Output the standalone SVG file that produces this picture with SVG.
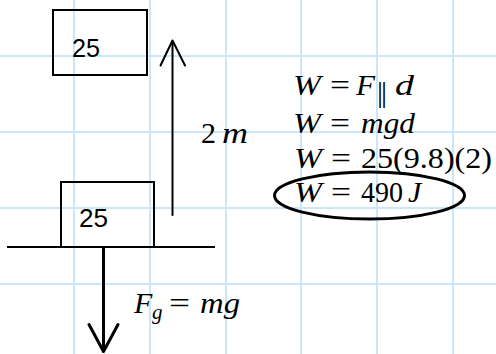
<svg xmlns="http://www.w3.org/2000/svg" width="496" height="354" viewBox="0 0 496 354">
<style>
.grid line{stroke:#c9e6fa;stroke-width:2}
.box{fill:none;stroke:#000;stroke-width:2}
.num{font-family:"Liberation Sans",Arial,sans-serif;font-size:26px;fill:#000}
.m{font-family:"Liberation Serif","Times New Roman",serif;font-size:30px;fill:#000}
.i{font-style:italic}
.sub{font-size:21px}
.arr{fill:none;stroke:#000;stroke-linecap:round;stroke-linejoin:round}
</style>
<rect width="496" height="354" fill="#fff"/>
<g class="grid">
<line x1="74" y1="0" x2="74" y2="354"/>
<line x1="150" y1="0" x2="150" y2="354"/>
<line x1="226" y1="0" x2="226" y2="354"/>
<line x1="301" y1="0" x2="301" y2="354"/>
<line x1="377" y1="0" x2="377" y2="354"/>
<line x1="453" y1="0" x2="453" y2="354"/>
<line x1="0" y1="56" x2="496" y2="56"/>
<line x1="0" y1="132" x2="496" y2="132"/>
<line x1="0" y1="208" x2="496" y2="208"/>
<line x1="0" y1="284" x2="496" y2="284"/>
</g>
<g id="box-top">
<rect class="box" x="53" y="10" width="94" height="65"/>
<text class="num" x="72" y="57" textLength="28" lengthAdjust="spacingAndGlyphs">25</text>
</g>
<g id="box-bottom">
<rect class="box" x="61" y="182" width="93" height="65"/>
<text class="num" x="79" y="227" textLength="29" lengthAdjust="spacingAndGlyphs">25</text>
</g>
<g id="ground">
<line x1="7" y1="247" x2="215" y2="247" stroke="#000" stroke-width="2"/>
</g>
<g id="connectors">
<g id="arrow-up">
<line class="arr" x1="172.5" y1="215" x2="172.5" y2="41" stroke-width="2"/>
<polyline class="arr" points="160.5,65.5 172.5,40.5 185,65.5" stroke-width="2"/>
</g>
<g id="arrow-down">
<line class="arr" x1="103.5" y1="248" x2="103.5" y2="351" stroke-width="3"/>
<polyline class="arr" points="89,324.5 103.5,351.5 118,324.5" stroke-width="3"/>
</g>
</g>
<g id="label-distance">
<text class="m" x="201" y="143">2</text>
<text class="m i" x="222" y="143" textLength="26" lengthAdjust="spacingAndGlyphs">m</text>
</g>
<g id="label-force">
<text class="m i" x="134" y="313">F</text>
<text class="m i sub" x="152" y="319">g</text>
<text class="m" x="169" y="313" textLength="21" lengthAdjust="spacingAndGlyphs">=</text>
<text class="m i" x="200" y="313" textLength="40" lengthAdjust="spacingAndGlyphs">mg</text>
</g>
<g id="equations">
<text class="m i" x="293" y="95" textLength="28" lengthAdjust="spacingAndGlyphs">W</text>
<text class="m" x="330" y="95" textLength="20" lengthAdjust="spacingAndGlyphs">=</text>
<text class="m i" x="356" y="95" textLength="19" lengthAdjust="spacingAndGlyphs">F</text>
<text class="m" x="377 381" y="102" font-size="13">||</text>
<text class="m i" x="395" y="95" textLength="19" lengthAdjust="spacingAndGlyphs">d</text>
<text class="m i" x="293" y="133" textLength="28" lengthAdjust="spacingAndGlyphs">W</text>
<text class="m" x="330" y="133" textLength="20" lengthAdjust="spacingAndGlyphs">=</text>
<text class="m i" x="361" y="133" textLength="54" lengthAdjust="spacingAndGlyphs">mgd</text>
<text class="m i" x="294" y="168" textLength="28" lengthAdjust="spacingAndGlyphs">W</text>
<text class="m" x="331" y="168" textLength="20" lengthAdjust="spacingAndGlyphs">=</text>
<text class="m" x="361" y="168" textLength="131" lengthAdjust="spacingAndGlyphs">25(9.8)(2)</text>
<g id="result">
<text class="m i" x="294" y="202" textLength="28" lengthAdjust="spacingAndGlyphs">W</text>
<text class="m" x="331" y="202" textLength="20" lengthAdjust="spacingAndGlyphs">=</text>
<text class="m" x="361" y="202" textLength="42" lengthAdjust="spacingAndGlyphs">490</text>
<text class="m i" x="408" y="202">J</text>
<ellipse cx="369.5" cy="195.5" rx="95" ry="23.5" fill="none" stroke="#000" stroke-width="3"/>
</g>
</g>
</svg>
